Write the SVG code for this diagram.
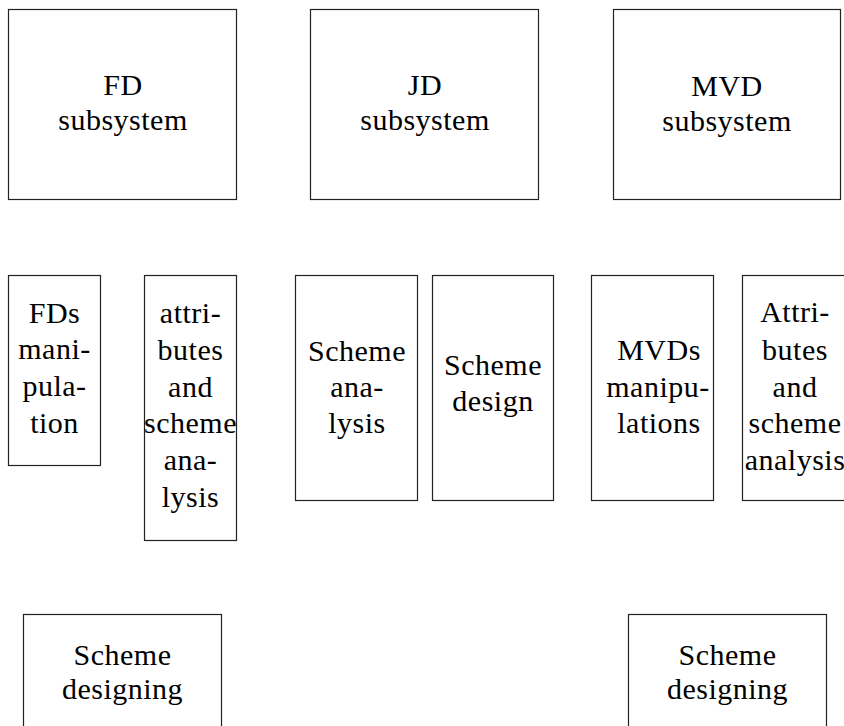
<svg xmlns="http://www.w3.org/2000/svg" width="844" height="726" viewBox="0 0 844 726">
<style>
rect.box { fill: #fff; stroke: #222; stroke-width: 1.2; }
text { font-family: "Liberation Serif", "DejaVu Serif", serif; font-size: 30px; letter-spacing: 0.5px; fill: #000; text-anchor: middle; }
</style>
<rect width="844" height="726" fill="#fff"/>
<g id="fd-subsystem">
<rect class="box" x="8.5" y="9.5" width="228" height="190"/>
<text x="123" y="95">FD</text>
<text x="123" y="130">subsystem</text>
</g>
<g id="jd-subsystem">
<rect class="box" x="310.5" y="9.5" width="228" height="190"/>
<text x="425" y="95">JD</text>
<text x="425" y="130">subsystem</text>
</g>
<g id="mvd-subsystem">
<rect class="box" x="613.5" y="9.5" width="227" height="190"/>
<text x="727" y="95.5">MVD</text>
<text x="727" y="130.5">subsystem</text>
</g>
<g id="fds-manipulation">
<rect class="box" x="8.5" y="275.5" width="92" height="190"/>
<text x="54.5" y="323">FDs</text>
<text x="54.5" y="359">mani-</text>
<text x="54.5" y="396">pula-</text>
<text x="54.5" y="433">tion</text>
</g>
<g id="attributes-scheme-analysis">
<rect class="box" x="144.5" y="275.5" width="92" height="265"/>
<text x="190.5" y="323">attri-</text>
<text x="190.5" y="360">butes</text>
<text x="190.5" y="396.5">and</text>
<text x="190.5" y="433">scheme</text>
<text x="190.5" y="470">ana-</text>
<text x="190.5" y="506.5">lysis</text>
</g>
<g id="scheme-analysis">
<rect class="box" x="295.5" y="275.5" width="122" height="225"/>
<text x="357" y="361">Scheme</text>
<text x="357" y="397">ana-</text>
<text x="357" y="433">lysis</text>
</g>
<g id="scheme-design">
<rect class="box" x="432.5" y="275.5" width="121" height="225"/>
<text x="493" y="375">Scheme</text>
<text x="493" y="411">design</text>
</g>
<g id="mvds-manipulations">
<rect class="box" x="591.5" y="275.5" width="122" height="225"/>
<text x="659" y="360">MVDs</text>
<text x="658" y="396.5">manipu-</text>
<text x="659" y="433">lations</text>
</g>
<g id="attributes-scheme-analysis-2">
<rect class="box" x="742.5" y="275.5" width="110" height="225"/>
<text x="795" y="322">Attri-</text>
<text x="795" y="360">butes</text>
<text x="795" y="396.5">and</text>
<text x="795" y="433">scheme</text>
<text x="795" y="470">analysis</text>
</g>
<g id="scheme-designing-1">
<rect class="box" x="23.5" y="614.5" width="198" height="130"/>
<text x="122.5" y="665">Scheme</text>
<text x="122.5" y="699">designing</text>
</g>
<g id="scheme-designing-2">
<rect class="box" x="628.5" y="614.5" width="198" height="130"/>
<text x="727.5" y="665">Scheme</text>
<text x="727.5" y="699">designing</text>
</g>
<g id="connectors"/>
</svg>
